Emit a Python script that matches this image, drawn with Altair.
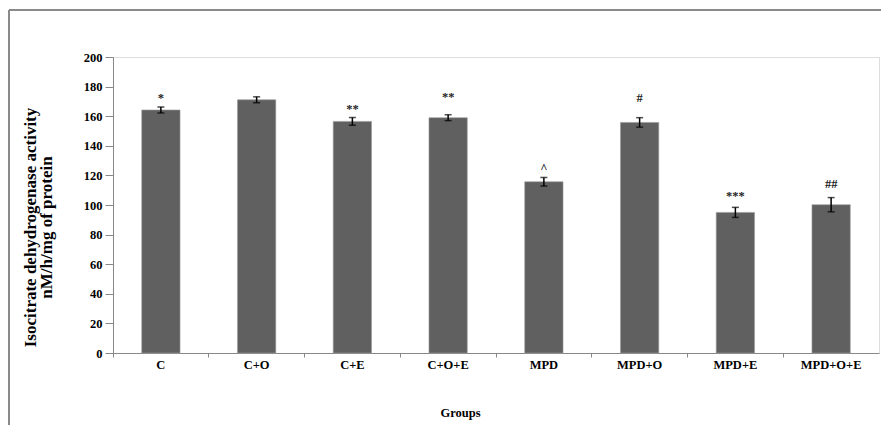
import altair as alt
import pandas as pd

groups = ["C", "C+O", "C+E", "C+O+E", "MPD", "MPD+O", "MPD+E", "MPD+O+E"]
means = [164.2, 171.1, 156.5, 159.0, 115.7, 155.8, 95.0, 100.2]
errors = [2.0, 2.0, 2.6, 2.0, 2.9, 3.2, 3.4, 4.8]
marks = ["*", "", "**", "**", "^", "#", "***", "##"]
mark_heights = [172.5, 0, 165.0, 173.0, 125.2, 172.5, 106.0, 114.0]
y_ticks = [0, 20, 40, 60, 80, 100, 120, 140, 160, 180, 200]

df = pd.DataFrame({
    "group": groups,
    "mean": means,
    "lo": [m - e for m, e in zip(means, errors)],
    "hi": [m + e for m, e in zip(means, errors)],
    "mark": marks,
    "mark_y": mark_heights,
})

FONT = "Liberation Serif"
W, H = 766, 296
Y_TITLE = ["Isocitrate dehydrogenase activity", "nM/h/mg of protein"]

x_axis = alt.Axis(
    labelAngle=0, labelFont=FONT, labelFontSize=12.5, labelFontWeight="bold",
    labelColor="#000", labelPadding=1, tickSize=4, tickColor="#888",
    domainColor="#888", bandPosition=0, titleFont=FONT, titleFontSize=12.5,
    titleFontWeight="bold", titleColor="#000", titlePadding=36,
    titleX=347, titleAnchor="middle",
)
y_axis = alt.Axis(
    values=y_ticks, grid=False, labelOverlap=False,
    labelFont=FONT, labelFontSize=12.5, labelFontWeight="bold",
    labelColor="#000", labelPadding=3, tickSize=8, tickColor="#888",
    domainColor="#888", titleFont=FONT, titleFontSize=17,
    titleFontWeight="bold", titleColor="#000", titlePadding=28,
    titleY=170, titleLineHeight=16,
)
xscale = alt.Scale(paddingInner=0, paddingOuter=0)
yscale = alt.Scale(domain=[0, 200])


def X():
    return alt.X("group:N", sort=groups, title="Groups", scale=xscale, axis=x_axis)


def Y(field):
    return alt.Y(field, scale=yscale, title=Y_TITLE, axis=y_axis)


base = alt.Chart(df)

bars = base.mark_bar(
    color="#606060", stroke="#9a9a9a", strokeWidth=0.6,
    width=alt.RelativeBandSize(0.4),
).encode(x=X(), y=Y("mean:Q"))

err = base.mark_rule(color="#000", strokeWidth=1.5).encode(
    x=X(), y=Y("lo:Q"), y2="hi:Q"
)
caps_lo = base.mark_tick(color="#000", thickness=1.5, size=7).encode(
    x=X(), y=Y("lo:Q")
)
caps_hi = base.mark_tick(color="#000", thickness=1.5, size=7).encode(
    x=X(), y=Y("hi:Q")
)
labels = base.transform_filter(alt.datum.mark != "").mark_text(
    font=FONT, fontSize=12.5, fontWeight="bold", color="#222", baseline="middle"
).encode(x=X(), y=Y("mark_y:Q"), text="mark:N")

frame_top = base.mark_rule(color="#8a8a8a", strokeWidth=1.5).encode(
    x=alt.value(-104), x2=alt.value(W + 10), y=alt.value(-47)
)
frame_left = base.mark_rule(color="#8a8a8a", strokeWidth=1.5).encode(
    x=alt.value(-104), y=alt.value(-47), y2=alt.value(H + 90)
)

chart = alt.layer(bars, err, caps_lo, caps_hi, labels, frame_top, frame_left).properties(
    width=W, height=H,
    autosize=alt.AutoSizeParams(type="none"),
    padding={"left": 105, "top": 49, "right": 2, "bottom": 72},
).configure_view(strokeWidth=0).configure(background="white")

chart.save("out.html", embed_options={"renderer": "svg", "actions": False})
